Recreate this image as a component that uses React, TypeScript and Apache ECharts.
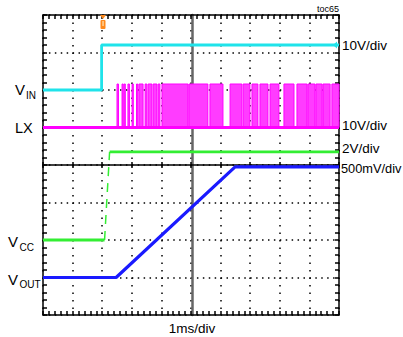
import React, { useEffect, useRef } from "react";
import * as echarts from "echarts";

// Time axis: 0..10 ms (1 ms/div); vertical axis: 0..8 screen divisions
const X_MIN = 0;
const X_MAX = 10;
const Y_MIN = 0;
const Y_MAX = 8;

// Traces in [ms, divisions]
const vinTrace: number[][] = [[0, 6.0], [1.98, 6.0], [1.98, 7.2], [10, 7.2]];
const lxBase: number[][] = [[0, 5.0], [10, 5.0]];
const LX_LOW = 5.0;
const LX_HIGH = 6.16;
// switching bursts of LX [start ms, end ms]
const lxBursts: number[][] = [
  [2.5, 2.55], [2.67, 2.7], [2.74, 2.77], [2.87, 2.92], [3.01, 3.04], [3.16, 3.19],
  [3.24, 3.38], [3.45, 3.51], [3.55, 3.68], [3.72, 3.85], [3.89, 3.95], [4.02, 4.9],
  [4.93, 5.57], [5.64, 6.08], [6.32, 6.72], [6.76, 6.99], [7.06, 7.26], [7.33, 7.6],
  [7.67, 7.97], [8.14, 8.48], [8.58, 8.92], [8.95, 9.19], [9.22, 9.43], [9.46, 9.7],
  [9.76, 10.0],
];
const vccLow: number[][] = [[0, 2.0], [2.08, 2.0]];
const vccRise: number[][] = [[2.08, 2.0], [2.25, 4.35]];
const vccHigh: number[][] = [[2.25, 4.35], [10, 4.35]];
const voutTrace: number[][] = [[0, 1.0], [2.47, 1.0], [6.49, 3.95], [10, 3.95]];

const scaleLabels = ["10V/div", "10V/div", "2V/div", "500mV/div"];
const timeLabel = "1ms/div";

const FONT = "'Liberation Sans', Arial, sans-serif";
const CYAN = "#1fe3ea";
const MAGENTA = "#ff00ff";
const GREEN = "#33ee33";
const BLUE = "#1a1aff";

const GL = 43, GT = 15, GW = 296, GH = 300;

function frameAxis(extra: any) {
  return {
    type: "value",
    min: X_MIN,
    max: X_MAX,
    interval: 1,
    axisLine: { show: true, onZero: false, lineStyle: { color: "#000", width: 1.5 } },
    axisTick: { show: true, inside: true, length: 4, lineStyle: { color: "#000", width: 1.5 } },
    minorTick: { show: true, splitNumber: 5, length: 4, lineStyle: { color: "#000", width: 1.5 } },
    axisLabel: { show: false },
    splitLine: { show: false },
    minorSplitLine: { show: false },
    ...extra,
  };
}

export default function App() {
  const ref = useRef<HTMLDivElement>(null);
  useEffect(() => {
    const chart = echarts.init(ref.current!, null, { renderer: "svg" });
    const yRange = { min: Y_MIN, max: Y_MAX };
    const option: any = {
      animation: false,
      backgroundColor: "#fff",
      grid: { left: GL, top: GT, width: GW, height: GH },
      xAxis: [
        frameAxis({
          position: "bottom",
          splitLine: { show: true, lineStyle: { color: "#000", width: 1.5, type: [1.5, 6] } },
        }),
        frameAxis({ position: "top" }),
        frameAxis({
          position: "bottom",
          offset: -150,
          minorTick: { show: false },
          axisTick: { show: true, inside: true, length: 3, lineStyle: { color: "#000", width: 1.5 } },
        }),
        frameAxis({
          position: "bottom",
          offset: -150,
          axisLine: { show: false },
          minorTick: { show: false },
          axisTick: { show: true, inside: false, length: 3, lineStyle: { color: "#000", width: 1.5 } },
        }),
      ],
      yAxis: [
        frameAxis({
          ...yRange,
          position: "left",
          splitLine: { show: true, lineStyle: { color: "#000", width: 1.5, type: [1.5, 4.42] } },
        }),
        frameAxis({ ...yRange, position: "right" }),
        frameAxis({
          ...yRange,
          position: "left",
          offset: -149,
          axisLine: { show: true, onZero: false, lineStyle: { color: "#666", width: 2.5 } },
          axisTick: { show: false },
          minorTick: { show: false },
        }),
      ],
      series: [
        {
          type: "line",
          data: vinTrace,
          showSymbol: false,
          lineStyle: { color: CYAN, width: 2.8 },
          z: 3,
        },
        {
          type: "line",
          data: lxBase,
          showSymbol: false,
          lineStyle: { color: MAGENTA, width: 3 },
          z: 3,
        },
        {
          type: "custom",
          data: lxBursts,
          encode: { x: [0, 1] },
          z: 3,
          renderItem: (params: any, api: any) => {
            const p0 = api.coord([api.value(0), LX_LOW]);
            const p1 = api.coord([api.value(1), LX_HIGH]);
            return {
              type: "rect",
              shape: { x: p0[0], y: p1[1], width: Math.max(p1[0] - p0[0], 1.2), height: p0[1] - p1[1] },
              style: { fill: "#ff3cff", stroke: MAGENTA, lineWidth: 1 },
            };
          },
        },
        {
          type: "line",
          data: vccLow,
          showSymbol: false,
          lineStyle: { color: GREEN, width: 2.8 },
          z: 3,
        },
        {
          type: "line",
          data: vccRise,
          showSymbol: false,
          lineStyle: { color: GREEN, width: 1.5, type: [9, 7] },
          z: 3,
        },
        {
          type: "line",
          data: vccHigh,
          showSymbol: false,
          lineStyle: { color: GREEN, width: 2.8 },
          z: 3,
        },
        {
          type: "line",
          data: voutTrace,
          showSymbol: false,
          lineStyle: { color: BLUE, width: 3.2 },
          z: 4,
        },
      ],
      graphic: [
        // trigger marker
        { type: "polygon", shape: { points: [[100, 15], [106, 15], [103, 19]] }, style: { fill: "#ff8a1c" }, z: 10 },
        { type: "rect", shape: { x: 100.5, y: 20, width: 5, height: 9, r: 1 }, style: { fill: "#ff8a1c" }, z: 10 },
        { type: "rect", shape: { x: 102.3, y: 21, width: 1.5, height: 5 }, style: { fill: "#ffd49a" }, z: 11 },
        // VIN channel marker on right
        { type: "polygon", shape: { points: [[333, 45], [337, 41.5], [337, 48.5]] }, style: { fill: CYAN }, z: 10 },
        // left labels
        { type: "text", x: 15, y: 89, style: { text: "V", font: `15px ${FONT}`, fill: "#000", verticalAlign: "middle" } },
        { type: "text", x: 26, y: 95, style: { text: "IN", font: `10px ${FONT}`, fill: "#000", verticalAlign: "middle" } },
        { type: "text", x: 15, y: 128, style: { text: "LX", font: `14.5px ${FONT}`, fill: "#000", verticalAlign: "middle" } },
        { type: "text", x: 8, y: 241, style: { text: "V", font: `15px ${FONT}`, fill: "#000", verticalAlign: "middle" } },
        { type: "text", x: 19.5, y: 247, style: { text: "CC", font: `10px ${FONT}`, fill: "#000", verticalAlign: "middle" } },
        { type: "text", x: 8, y: 279, style: { text: "V", font: `15px ${FONT}`, fill: "#000", verticalAlign: "middle" } },
        { type: "text", x: 19.5, y: 284, style: { text: "OUT", font: `10px ${FONT}`, fill: "#000", verticalAlign: "middle" } },
        // right scale labels
        { type: "text", x: 342, y: 45, style: { text: scaleLabels[0], font: `13.5px ${FONT}`, fill: "#000", verticalAlign: "middle" } },
        { type: "text", x: 342, y: 125, style: { text: scaleLabels[1], font: `13.5px ${FONT}`, fill: "#000", verticalAlign: "middle" } },
        { type: "text", x: 342, y: 148, style: { text: scaleLabels[2], font: `13.5px ${FONT}`, fill: "#000", verticalAlign: "middle" } },
        { type: "text", x: 341, y: 168, style: { text: scaleLabels[3], font: `12.8px ${FONT}`, fill: "#000", verticalAlign: "middle" } },
        // bottom label
        { type: "text", x: 192, y: 328, style: { text: timeLabel, font: `13.5px ${FONT}`, fill: "#000", align: "center", verticalAlign: "middle" } },
        // figure tag
        { type: "text", x: 339, y: 9, style: { text: "toc65", font: `9px ${FONT}`, fill: "#000", align: "right", verticalAlign: "middle" } },
      ],
    };
    chart.setOption(option);
    return () => chart.dispose();
  }, []);
  return <div ref={ref} style={{ position: "absolute", left: 0, top: 0, width: 403, height: 337 }} />;
}
